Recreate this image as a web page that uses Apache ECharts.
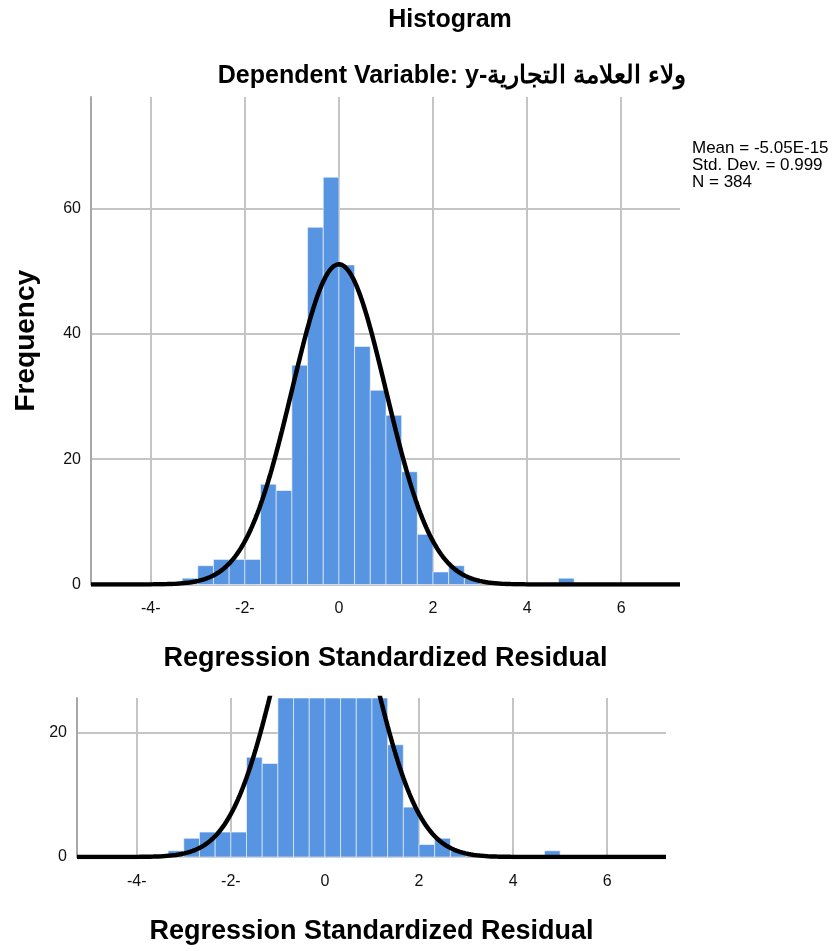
<!DOCTYPE html>
<html>
<head>
<meta charset="utf-8">
<script src="https://cdn.jsdelivr.net/npm/echarts@6/dist/echarts.min.js"></script>
<style>
html,body{margin:0;padding:0;background:#fff;}
#chart{width:834px;height:951px;}
</style>
</head>
<body>
<div id="chart"></div>
<script>
// ---- data ----
const binWidth = 1 / 3;
const binLefts = [-3.333, -3, -2.667, -2.333, -2, -1.667, -1.333, -1, -0.667, -0.333,
                  0, 0.333, 0.667, 1, 1.333, 1.667, 2, 2.333, 2.667, 4.667];
const counts   = [1, 3, 4, 4, 4, 16, 15, 35, 57, 65,
                  51, 38, 31, 27, 18, 8, 2, 3, 1, 1];
const statMean = -5.05e-15;
const statSD = 0.999;
const statN = 384;
const statLines = ['Mean = -5.05E-15', 'Std. Dev. = 0.999', 'N = 384'];
const xTicks = [-4, -2, 0, 2, 4, 6];
const xTickLabels = ['-4-', '-2-', '0', '2', '4', '6'];
const yTicksTop = [0, 20, 40, 60];
const yTicksBottom = [0, 20];
const titleText = 'Histogram';
const subtitleText = 'Dependent Variable: y-ولاء العلامة التجارية';
const xTitle = 'Regression Standardized Residual';
const yTitle = 'Frequency';

// ---- derived ----
const barData = binLefts.map((l, i) => [l, l + binWidth, counts[i]]);
const xMin = -5.27, xMax = 7.25;
// fitted normal curve from the displayed statistics
const curve = [];
for (let k = 0; k <= 626; k++) {
  const x = xMin + k * (xMax - xMin) / 626;
  const z = (x - statMean) / statSD;
  curve.push([x, statN * binWidth / (statSD * Math.sqrt(2 * Math.PI)) * Math.exp(-0.5 * z * z)]);
}

const FONT = '"Liberation Sans", Arial, sans-serif';
const gridColor = '#c4c4c4';

function xAxisCfg(gridIndex, labelMargin) {
  return {
    type: 'value', gridIndex, min: xMin, max: xMax,
    axisLine: { show: false, onZero: false },
    axisTick: { show: false, customValues: xTicks },
    axisLabel: {
      customValues: xTicks, margin: labelMargin, color: '#111', fontFamily: FONT, fontSize: 16,
      formatter: v => xTickLabels[xTicks.indexOf(Math.round(v))]
    },
    splitLine: { show: true, lineStyle: { color: gridColor, width: 2 } },
    name: xTitle, nameLocation: 'middle', nameGap: 61,
    nameTextStyle: { fontFamily: FONT, fontSize: 27, fontWeight: 'bold', color: '#000' }
  };
}
function yAxisCfg(gridIndex, max, ticks, withName) {
  return {
    type: 'value', gridIndex, min: 0, max,
    axisLine: { show: true, onZero: false, lineStyle: { color: '#a8a8a8', width: 2 } },
    axisTick: { show: false, customValues: ticks },
    axisLabel: { customValues: ticks, margin: 10, color: '#111', fontFamily: FONT, fontSize: 16 },
    splitLine: { show: true, lineStyle: { color: gridColor, width: 2 } },
    name: withName ? yTitle : '', nameLocation: 'middle', nameGap: 51,
    nameTextStyle: { fontFamily: FONT, fontSize: 28, fontWeight: 'bold', color: '#000' }
  };
}

function renderBar(params, api) {
  const p0 = api.coord([api.value(0), api.value(2)]);
  const p1 = api.coord([api.value(1), 0]);
  const cs = params.coordSys;
  const shape = echarts.graphic.clipRectByRect(
    { x: p0[0], y: p0[1], width: p1[0] - p0[0], height: p1[1] - p0[1] },
    { x: cs.x, y: cs.y, width: cs.width, height: cs.height });
  return shape && {
    type: 'rect', shape,
    style: { fill: '#5795e3', stroke: 'rgba(255,255,255,0.55)', lineWidth: 1 }
  };
}

const chart = echarts.init(document.getElementById('chart'), null, { renderer: 'canvas' });
chart.setOption({
  animation: false,
  backgroundColor: '#fff',
  grid: [
    { left: 91, right: 154, top: 97, bottom: 366.5 },
    { left: 77, right: 168, top: 698, bottom: 94 }
  ],
  xAxis: [xAxisCfg(0, 16), xAxisCfg(1, 17)],
  yAxis: [yAxisCfg(0, 77.8, yTicksTop, true), yAxisCfg(1, 25.5, yTicksBottom, false)],
  series: [
    { type: 'custom', xAxisIndex: 0, yAxisIndex: 0, renderItem: renderBar, data: barData, encode: { x: [0, 1], y: 2 } },
    { type: 'line', xAxisIndex: 0, yAxisIndex: 0, data: curve, showSymbol: false, symbol: 'none',
      lineStyle: { color: '#000', width: 4.5 }, z: 5 },
    { type: 'custom', xAxisIndex: 1, yAxisIndex: 1, renderItem: renderBar, data: barData, encode: { x: [0, 1], y: 2 } },
    { type: 'line', xAxisIndex: 1, yAxisIndex: 1, data: curve, showSymbol: false, symbol: 'none',
      lineStyle: { color: '#000', width: 4.5 }, z: 5 }
  ],
  graphic: [
    { type: 'text', x: 450, y: 20, style: { text: titleText, textAlign: 'center', textVerticalAlign: 'middle',
      font: 'bold 25px ' + FONT, fill: '#000' } },
    { type: 'text', x: 452, y: 76, style: { text: subtitleText, textAlign: 'center', textVerticalAlign: 'middle',
      font: 'bold 25px ' + FONT, fill: '#000' } },
    { type: 'text', x: 692, y: 148, style: { text: statLines[0], textAlign: 'left', textVerticalAlign: 'middle',
      font: '17px ' + FONT, fill: '#000' } },
    { type: 'text', x: 692, y: 165, style: { text: statLines[1], textAlign: 'left', textVerticalAlign: 'middle',
      font: '17px ' + FONT, fill: '#000' } },
    { type: 'text', x: 692, y: 182, style: { text: statLines[2], textAlign: 'left', textVerticalAlign: 'middle',
      font: '17px ' + FONT, fill: '#000' } }
  ]
});
</script>
</body>
</html>
